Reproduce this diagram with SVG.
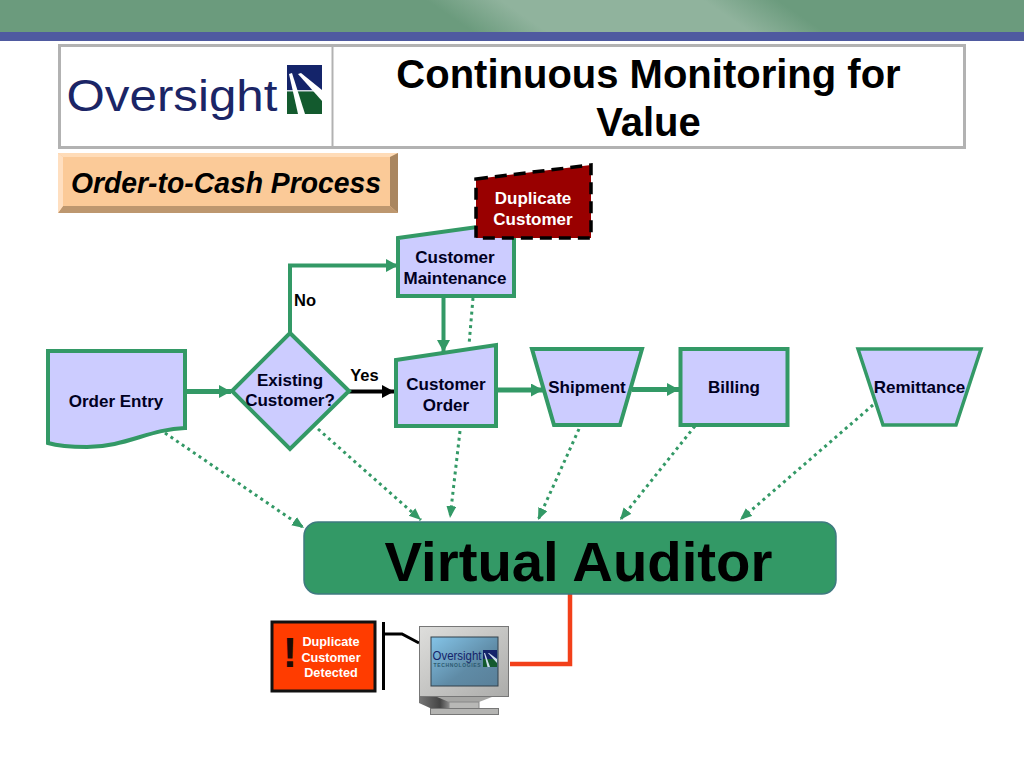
<svg xmlns="http://www.w3.org/2000/svg" width="1024" height="768" viewBox="0 0 1024 768">
<style>
text{font-family:"Liberation Sans",Arial,sans-serif;font-weight:bold;text-anchor:middle;fill:#000}
.n{fill:#ccccff;stroke:#339966;stroke-width:4}
.t{font-size:17px;fill:#000022}
.c{fill:none;stroke:#339966;stroke-width:4}
.d{fill:none;stroke:#339966;stroke-width:3;stroke-dasharray:3 3.8}
.w{font-size:17px;fill:#fff}
.a{font-size:12.700px;fill:#fff}
</style>
<defs>
<marker id="ga" markerUnits="userSpaceOnUse" markerWidth="14" markerHeight="14" refX="12" refY="6.500" orient="auto"><path d="M0 0L12 6.500L0 13Z" fill="#339966"/></marker>
<marker id="gd" markerUnits="userSpaceOnUse" markerWidth="14" markerHeight="12" refX="12" refY="5" orient="auto"><path d="M0 0L12 5L0 10Z" fill="#339966"/></marker>
<marker id="ka" markerUnits="userSpaceOnUse" markerWidth="14" markerHeight="14" refX="12" refY="6.500" orient="auto"><path d="M0 0L12 6.500L0 13Z" fill="#000"/></marker>
<linearGradient id="top" gradientUnits="userSpaceOnUse" x1="0" y1="0" x2="337.500" y2="-495.600"><stop offset="0" stop-color="#6b9b7d"/><stop offset=".4" stop-color="#6b9b7d"/><stop offset=".47" stop-color="#90b39d"/><stop offset=".66" stop-color="#90b39d"/><stop offset=".73" stop-color="#6b9b7d"/><stop offset="1" stop-color="#6b9b7d"/></linearGradient>
<linearGradient id="scr" x1="0" x2="1" y1="0" y2="1"><stop offset="0" stop-color="#84c4e8"/><stop offset=".6" stop-color="#5f8ba6"/><stop offset="1" stop-color="#5a8099"/></linearGradient>
<linearGradient id="mon" x1="0" x2="1" y1="0" y2="1"><stop offset="0" stop-color="#dededc"/><stop offset="1" stop-color="#acacaa"/></linearGradient>
<linearGradient id="shd" x1="0" x2="1" y1="0" y2="0"><stop offset="0" stop-color="#777"/><stop offset=".7" stop-color="#444"/><stop offset="1" stop-color="#888"/></linearGradient>
</defs>

<g id="banner">
<rect width="1024" height="32" fill="url(#top)"/>
<rect y="32" width="1024" height="9" fill="#4f5aa0"/>
</g>

<g id="title-table">
<rect x="59.500" y="45.500" width="905" height="102" fill="#fff" stroke="#b2b2b2" stroke-width="3"/>
<line x1="332.500" y1="45" x2="332.500" y2="148" stroke="#b2b2b2" stroke-width="2"/>
<text x="648.500" y="88" font-size="40">Continuous Monitoring for</text>
<text x="648.500" y="136" font-size="40">Value</text>
</g>

<g id="logo">
<text x="172" y="111" font-size="44" style="font-weight:normal;fill:#1b2566" textLength="211" lengthAdjust="spacingAndGlyphs">Oversight</text>
<rect x="287" y="65" width="35" height="25" fill="#14246a"/>
<rect x="287" y="91" width="35" height="23" fill="#135a2e"/>
<rect x="287" y="90" width="35" height="1.500" fill="#cfd6e0"/>
<path d="M289 74L292 73L305 114H298Z" fill="#fff"/>
<path d="M298 74L301 73L322 90V101Z" fill="#fff"/>
</g>

<g id="process-label">
<rect x="58" y="153" width="340" height="60" fill="#fbca98"/>
<path d="M58 153H398L390 157H63Z" fill="#ffdcb8"/>
<path d="M390 157L398 153V213L390 206Z" fill="#a98660"/>
<path d="M58 213L63 206H390L398 213Z" fill="#bd976f"/>
<path d="M58 153L63 157V206L58 213Z" fill="#ffdfc0"/>
<text x="226" y="193" font-size="29" style="font-style:italic" textLength="310" lengthAdjust="spacingAndGlyphs">Order-to-Cash Process</text>
</g>

<g id="connectors">
<path class="d" d="M165 433L304 528" marker-end="url(#gd)"/>
<path class="d" d="M318 429L421 520" marker-end="url(#gd)"/>
<path class="d" d="M460 431L450 518" marker-end="url(#gd)"/>
<path class="d" d="M579 429L538 520" marker-end="url(#gd)"/>
<path class="d" d="M695 426L620 520" marker-end="url(#gd)"/>
<path class="d" d="M873 405L740 520" marker-end="url(#gd)"/>
<path class="d" d="M473 298L469 345"/>
<path class="c" d="M186 391.500H231" style="stroke-width:5" marker-end="url(#ga)"/>
<path class="c" d="M290 332V265.500H398" marker-end="url(#ga)"/>
<path class="c" d="M443.500 297V352" marker-end="url(#ga)"/>
<path d="M349 391.500H394" fill="none" stroke="#000" stroke-width="4" marker-end="url(#ka)"/>
<path class="c" d="M498 390H543" style="stroke-width:5" marker-end="url(#ga)"/>
<path class="c" d="M632 389.500H679" style="stroke-width:5" marker-end="url(#ga)"/>
<path d="M570 594V664H510" fill="none" stroke="#f2401a" stroke-width="4.500"/>
<path d="M384 634H402L419 643" fill="none" stroke="#000" stroke-width="3"/>
</g>

<g id="order-entry">
<path class="n" d="M48 351H185V428C150 429 125 447 87 447C70 447 58 446 48 443Z"/>
<text class="t" x="116" y="407">Order Entry</text>
</g>

<g id="existing-customer">
<path class="n" d="M290 333L349 391L290 449L232 391Z"/>
<text class="t" x="290" y="386">Existing</text>
<text class="t" x="290" y="406">Customer?</text>
</g>

<g id="customer-maintenance">
<path class="n" d="M398 238L514 222V296H398Z"/>
<text class="t" x="455" y="263">Customer</text>
<text class="t" x="455" y="284">Maintenance</text>
</g>

<g id="duplicate-customer">
<path d="M476 179L591 165V238H476Z" fill="#990000" stroke="#000" stroke-width="3.500" stroke-dasharray="12 7"/>
<text class="w" x="533" y="204">Duplicate</text>
<text class="w" x="533" y="225">Customer</text>
</g>

<g id="customer-order">
<path class="n" d="M396 360L496 345V426H396Z"/>
<text class="t" x="446" y="390">Customer</text>
<text class="t" x="446" y="411">Order</text>
</g>

<g id="shipment">
<path class="n" d="M532 349H642L620 425H554Z"/>
<text class="t" x="587" y="393">Shipment</text>
</g>

<g id="billing">
<rect class="n" x="680.500" y="349" width="107" height="76"/>
<text class="t" x="734" y="393">Billing</text>
</g>

<g id="remittance">
<path class="n" d="M858 349H981L956 425H883Z" style="stroke-width:3.500"/>
<text class="t" x="919.500" y="393">Remittance</text>
</g>

<g id="edge-labels">
<text x="305" y="306" font-size="16.500">No</text>
<text x="364.500" y="381" font-size="16.500">Yes</text>
</g>

<g id="virtual-auditor">
<rect x="304" y="522" width="532" height="72" rx="14" fill="#339966" stroke="#3f7a80" stroke-width="1.500"/>
<text x="578.500" y="581" font-size="56.300">Virtual Auditor</text>
</g>

<g id="alert">
<rect x="272" y="622" width="103" height="69" fill="#ff3c00" stroke="#111" stroke-width="3"/>
<rect x="382" y="622" width="3" height="68" fill="#000"/>
<text x="290" y="667" font-size="43" style="fill:#1c0a05">!</text>
<text class="a" x="331" y="646">Duplicate</text>
<text class="a" x="331" y="662">Customer</text>
<text class="a" x="331" y="677">Detected</text>
</g>

<g id="monitor">
<path d="M419 697H449V708H430L419 703Z" fill="url(#shd)"/>
<path d="M437 697H492L479 702H449Z" fill="#a6a6a4"/>
<rect x="449" y="702" width="30" height="7" fill="#b8b8b6" stroke="#888"/>
<rect x="430.500" y="708.500" width="68" height="6" fill="#b4b4b2" stroke="#777"/>
<rect x="419.500" y="626.500" width="89" height="70" fill="url(#mon)" stroke="#777"/>
<rect x="431" y="637" width="67" height="49" fill="url(#scr)" stroke="#33404a"/>
<text x="457" y="660" font-size="13.500" style="font-weight:normal;fill:#14246a" textLength="49" lengthAdjust="spacingAndGlyphs">Oversight</text>
<text x="457" y="667" font-size="5" style="fill:#2c5a70" textLength="47" lengthAdjust="spacing">TECHNOLOGIES</text>
<rect x="483" y="650" width="14" height="9" fill="#14246a"/>
<rect x="483" y="659" width="14" height="8" fill="#135a2e"/>
<path d="M484 653L485 653L490 667H487.500Z" fill="#cfe0ee"/>
<path d="M488 653L489 653L497 659V663Z" fill="#cfe0ee"/>
</g>
</svg>
